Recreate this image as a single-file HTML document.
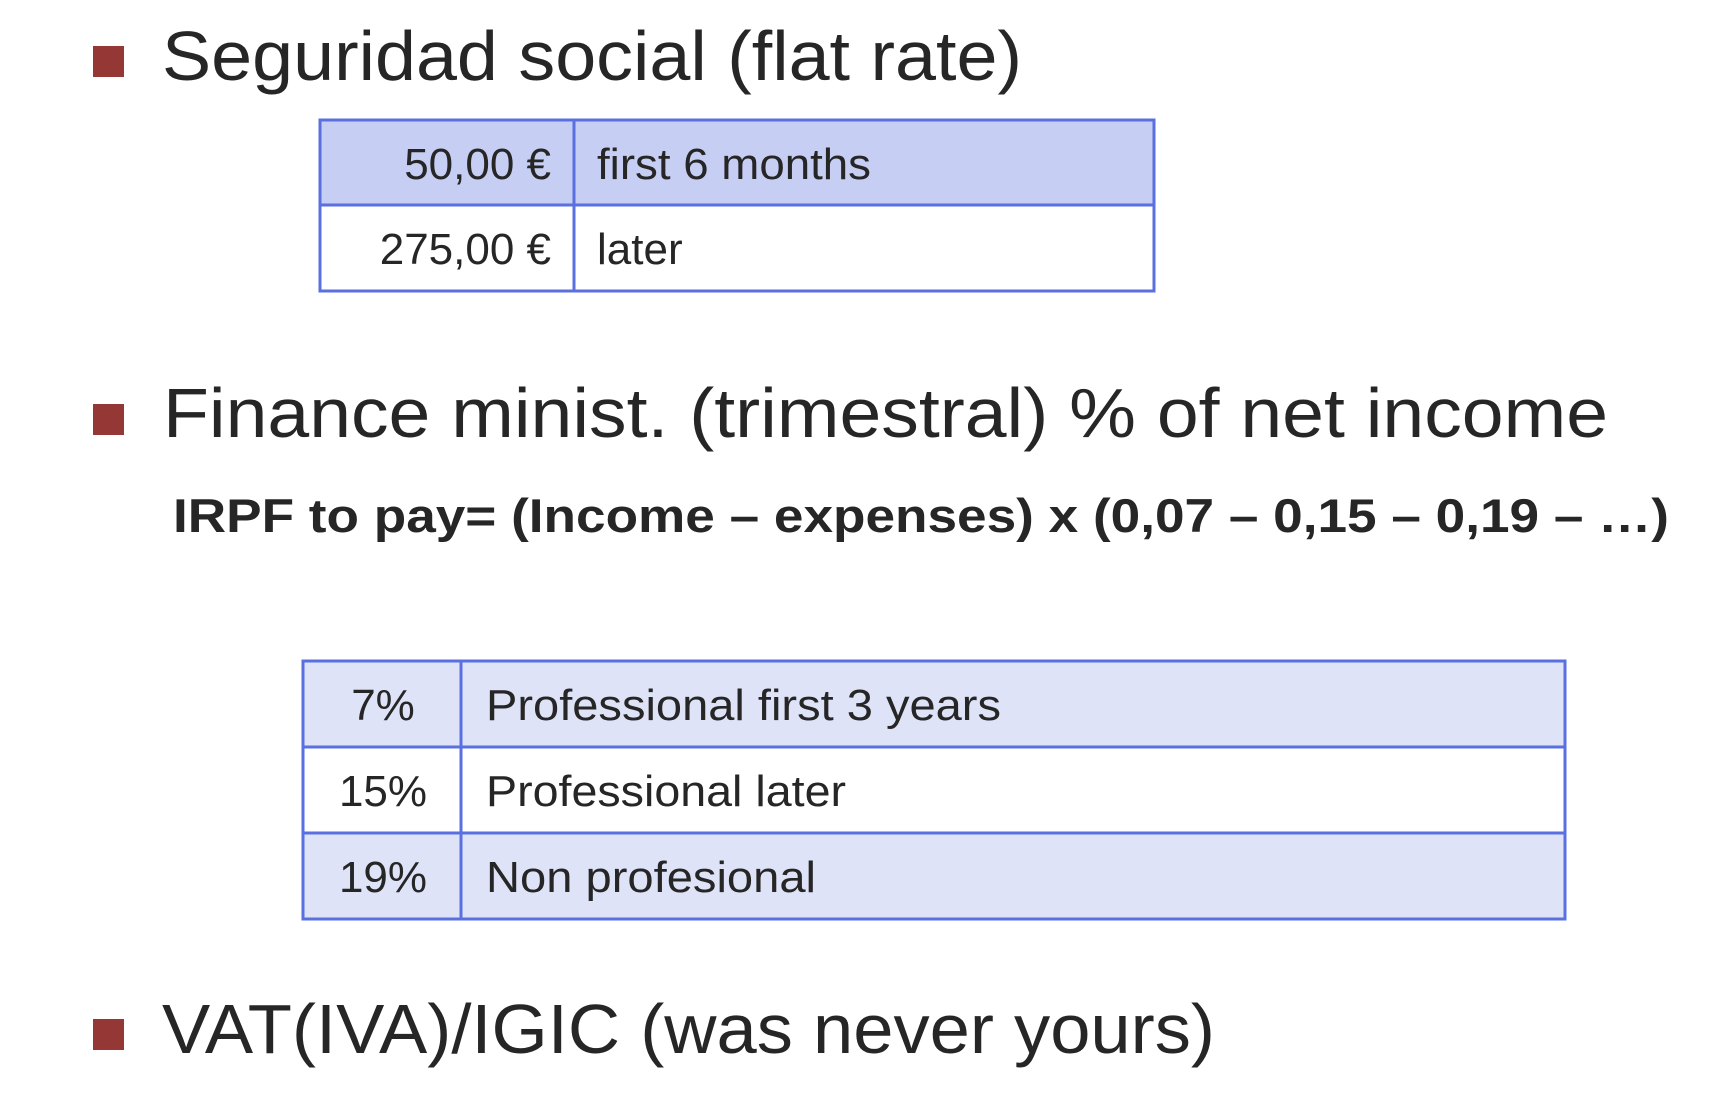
<!DOCTYPE html>
<html><head><meta charset="utf-8"><style>
html,body{margin:0;padding:0;background:#fff;}
svg{display:block;}
</style></head><body>
<svg width="1730" height="1104" viewBox="0 0 1730 1104" xmlns="http://www.w3.org/2000/svg">
  <g font-family="Liberation Sans, sans-serif" fill="#262626">
    <rect x="93" y="46" width="31" height="31" fill="#953735"/>
    <text x="162" y="80" font-size="70" textLength="860" lengthAdjust="spacingAndGlyphs">Seguridad social (flat rate)</text>

    <g>
      <rect x="320" y="120" width="834" height="85" fill="#c6cef4"/>
      <rect x="320" y="205" width="834" height="86" fill="#ffffff"/>
      <g stroke="#5a6fe0" stroke-width="3" fill="none">
        <rect x="320" y="120" width="834" height="171"/>
        <line x1="320" y1="205" x2="1154" y2="205"/>
        <line x1="574" y1="120" x2="574" y2="291"/>
      </g>
      <text x="551" y="179" font-size="44" text-anchor="end">50,00 €</text>
      <text x="597" y="179" font-size="44" textLength="274" lengthAdjust="spacingAndGlyphs">first 6 months</text>
      <text x="551" y="264" font-size="44" text-anchor="end">275,00 €</text>
      <text x="597" y="264" font-size="44">later</text>
    </g>

    <rect x="93" y="404" width="31" height="31" fill="#953735"/>
    <text x="163" y="437" font-size="70" textLength="1445" lengthAdjust="spacingAndGlyphs">Finance minist. (trimestral) % of net income</text>

    <text x="173" y="532" font-size="47" font-weight="bold" textLength="1496" lengthAdjust="spacingAndGlyphs">IRPF to pay= (Income – expenses) x (0,07 – 0,15 – 0,19 – …)</text>

    <g>
      <rect x="303" y="661" width="1262" height="86" fill="#dfe3f8"/>
      <rect x="303" y="747" width="1262" height="86" fill="#ffffff"/>
      <rect x="303" y="833" width="1262" height="86" fill="#dfe3f8"/>
      <g stroke="#5a6fe0" stroke-width="3" fill="none">
        <rect x="303" y="661" width="1262" height="258"/>
        <line x1="303" y1="747" x2="1565" y2="747"/>
        <line x1="303" y1="833" x2="1565" y2="833"/>
        <line x1="461" y1="661" x2="461" y2="919"/>
      </g>
      <text x="383" y="720" font-size="44" text-anchor="middle">7%</text>
      <text x="486" y="720" font-size="44" textLength="515" lengthAdjust="spacingAndGlyphs">Professional first 3 years</text>
      <text x="383" y="806" font-size="44" text-anchor="middle">15%</text>
      <text x="486" y="806" font-size="44" textLength="360" lengthAdjust="spacingAndGlyphs">Professional later</text>
      <text x="383" y="892" font-size="44" text-anchor="middle">19%</text>
      <text x="486" y="892" font-size="44" textLength="330" lengthAdjust="spacingAndGlyphs">Non profesional</text>
    </g>

    <rect x="93" y="1019" width="31" height="31" fill="#953735"/>
    <text x="162" y="1053" font-size="70" textLength="1053" lengthAdjust="spacingAndGlyphs">VAT(IVA)/IGIC (was never yours)</text>
  </g>
</svg>
</body></html>
